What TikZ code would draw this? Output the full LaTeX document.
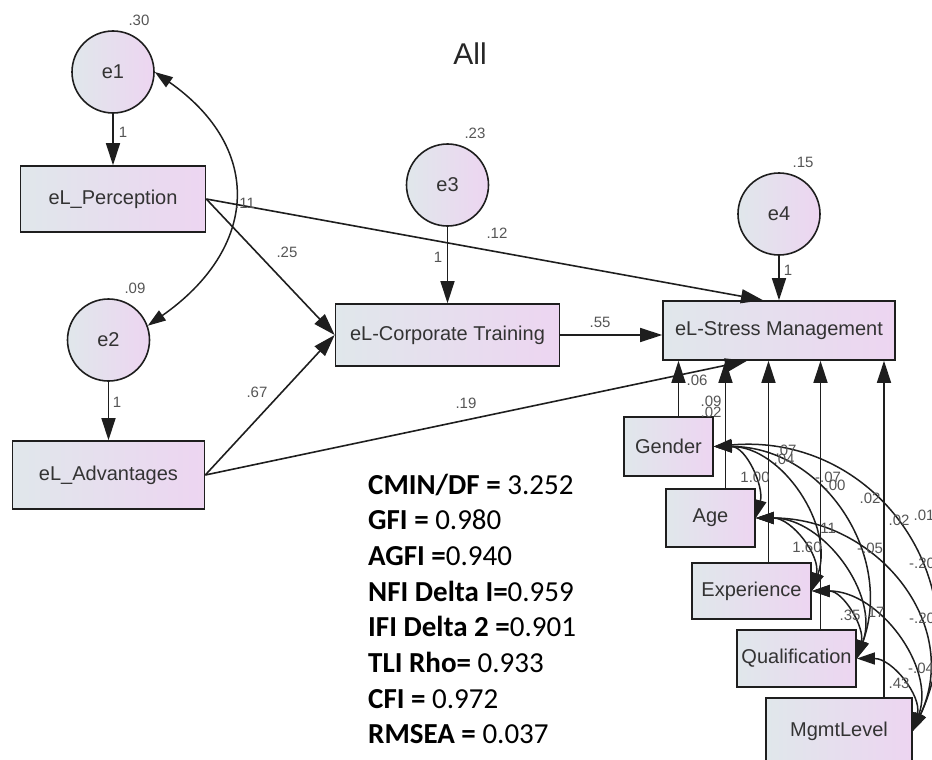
\documentclass[tikz,border=0pt]{standalone}
\usepackage{fontspec}
\setmainfont{Liberation Sans}
\newfontfamily\statfont{Carlito}
\usetikzlibrary{arrows.meta,positioning,calc}
\definecolor{semleft}{HTML}{E0E7EB}
\definecolor{semright}{HTML}{EDD5F1}
\definecolor{semline}{HTML}{1E1E1E}
\definecolor{semtext}{HTML}{333333}
\definecolor{semlbl}{HTML}{555555}

\begin{document}
\begin{tikzpicture}[x=1pt, y=1pt,
  latent/.style={circle, draw=semline, line width=1.6pt, left color=semleft,
    right color=semright, minimum size=82pt, inner sep=0pt,
    font=\fontsize{20}{24}\selectfont, text=semtext},
  obs/.style={rectangle, draw=semline, line width=1.6pt, left color=semleft,
    right color=semright, inner sep=0pt, font=\fontsize{20}{24}\selectfont,
    text=semtext},
  reg/.style={draw=semline, line width=1.6pt, -{Triangle[length=22pt,width=14pt]}},
  cov/.style={draw=semline, line width=1.5pt,
    {Triangle[length=18pt,width=12pt]}-{Triangle[length=18pt,width=12pt]}},
  lbl/.style={font=\fontsize{15}{18}\selectfont, text=semlbl, inner sep=0pt}
]
\useasboundingbox (0,0) rectangle (932,-760);
% ── Title ────────────────────────────────────────
\node[font=\fontsize{30}{36}\selectfont, text=black!85] (title) at (470,-54) {All};
% ── Error terms and endogenous boxes ─────────────
\node[latent] (e1) at (113,-72) {e1};
\node[obs, minimum width=185pt, minimum height=66pt] (per) at (113,-199) {eL\_Perception};
\node[latent] (e2) at (108.5,-340) {e2};
\node[obs, minimum width=192pt, minimum height=68pt] (adv) at (108.5,-475) {eL\_Advantages};
\node[latent] (e3) at (447.5,-185) {e3};
\node[obs, minimum width=224pt, minimum height=62pt] (ct) at (447.5,-335) {eL-Corporate Training};
\node[latent] (e4) at (779,-214) {e4};
\node[obs, minimum width=232pt, minimum height=59pt] (sm) at (779,-330.5) {eL-Stress Management};
% ── Control variables ────────────────────────────
\node[obs, minimum width=89pt, minimum height=59pt] (gen) at (668.5,-446.5) {Gender};
\node[obs, minimum width=89pt, minimum height=58pt] (age) at (710.5,-518) {Age};
\node[obs, minimum width=119pt, minimum height=56pt] (exp) at (751.5,-591) {Experience};
\node[obs, minimum width=119pt, minimum height=57pt] (qual) at (796.5,-658.5) {Qualification};
\node[obs, minimum width=146pt, minimum height=66pt] (mgmt) at (839,-731) {MgmtLevel};
% ── Paths ────────────────────────────────────────
\draw[reg] (e1) -- (per);
\draw[reg] (e2) -- (adv);
\draw[reg] (e3) -- (ct);
\draw[reg] (e4) -- (sm);
\draw[reg] (per.east) -- (ct.west);
\draw[reg] (adv.east) -- (ct.west);
\draw[reg] (per.east) -- ([xshift=-16pt]sm.north);
\draw[reg] (adv.east) -- ([xshift=-32pt]sm.south);
\draw[reg] (ct.east) -- (ct.east -| sm.west);
\foreach \v/\s in {gen/10, age/15, exp/17, qual/24, mgmt/45} {
  \draw[reg] ([xshift=\s pt]\v.north) -- ([xshift=\s pt]\v.north |- sm.south);
}
% ── Covariances ──────────────────────────────────
\draw[cov] (e1.east) to[out=-35, in=35, looseness=1.35] (e2.20);
\draw[cov] (gen.east) to[out=0, in=75] (age.east);
\draw[cov] (gen.east) to[out=0, in=70] (exp.east);
\draw[cov] (gen.east) to[out=0, in=70, looseness=1.1] (qual.east);
\draw[cov] (gen.east) to[out=5, in=65, looseness=1.2] (mgmt.east);
\draw[cov] (age.east) to[out=0, in=75] (exp.east);
\draw[cov] (age.east) to[out=0, in=70] (qual.east);
\draw[cov] (age.east) to[out=0, in=65, looseness=1.15] (mgmt.east);
\draw[cov] (exp.east) to[out=0, in=75] (qual.east);
\draw[cov] (exp.east) to[out=0, in=70] (mgmt.east);
\draw[cov] (qual.east) to[out=0, in=75] (mgmt.east);
% ── Estimates ────────────────────────────────────
\foreach \n/\x/\y/\t in {a/139/20/.30, b/123/132/1, c/245/203/.11, d/287/252/.25,
    f/135/288/.09, g/117/402/1, h/257/392/.67, i/475/133/.23, j/438/257/1,
    k/497/233/.12, l/600/322/.55, m/803/162/.15, n/788/270/1, o/466/403/.19,
    p/697/380/.06, q/711/401/.09, r/711/412/.02, s/755/477/1.00, t/786/450/.07,
    u/784/459/.04, v/828/477/-.07, w/835/485/.00, x/870/498/.02, y/899/520/.02,
    z/924/515/.01, aa/826/528/.11, ab/807/547/1.60, ac/870/548/-.05,
    ad/922/563/-.20, ae/850/615/.35, af/874/612/.17, ag/922/618/-.20,
    ah/921/668/-.04, ai/899/683/.43} {
  \node[lbl] (est\n) at (\x,-\y) {\t};
}
% ── Fit indices ──────────────────────────────────
\foreach \i/\t in {0/{\textbf{CMIN/DF =} 3.252}, 1/{\textbf{GFI =} 0.980},
    2/{\textbf{AGFI =}0.940}, 3/{\textbf{NFI Delta I=}0.959},
    4/{\textbf{IFI Delta 2 =}0.901}, 5/{\textbf{TLI Rho=} 0.933},
    6/{\textbf{CFI =} 0.972}, 7/{\textbf{RMSEA =} 0.037}} {
  \node[anchor=base west, inner sep=0pt, font=\statfont\fontsize{29}{35}\selectfont]
    (fit\i) at (368,-494-35.7*\i) {\t};
}
\end{tikzpicture}
\end{document}
